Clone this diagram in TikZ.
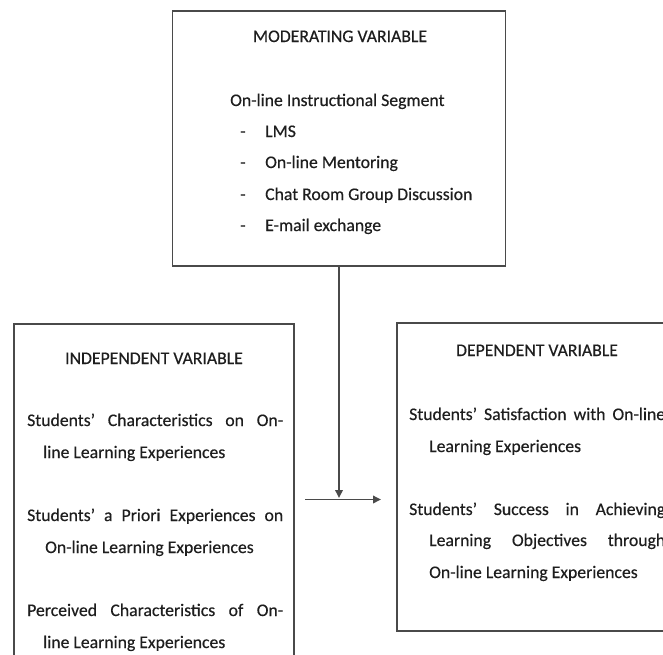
\documentclass[tikz,border=0pt]{standalone}
\usepackage{fontspec}
\setmainfont{Carlito}
\newfontfamily\boxfont{Carlito}[FakeBold=0.4]
\usetikzlibrary{arrows.meta}
\definecolor{boxgray}{HTML}{4A4A4A}
\definecolor{inkgray}{HTML}{1E1E1E}
\newcommand{\bodysize}{\boxfont\fontsize{17.7}{21}\selectfont}

\begin{document}
\begin{tikzpicture}[x=1pt,y=-1pt,
    varbox/.style={draw=boxgray, line width=1.7pt, fill=white, inner sep=0pt},
    vartitle/.style={anchor=base, inner sep=0pt, text=inkgray, font=\bodysize},
    varline/.style={anchor=base west, inner sep=0pt, text=inkgray, font=\bodysize},
    link/.style={draw=boxgray, line width=1.8pt, -{Triangle[length=8pt,width=7.5pt]}}]
    \useasboundingbox (0,0) rectangle (663,654);
    \clip (0,0) rectangle (663,654);

    % Boxes
    \node[varbox, minimum width=333pt, minimum height=255pt] (modbox) at (339,138.5) {};
    \node[varbox, minimum width=280pt, minimum height=376pt] (indbox) at (154,512) {};
    \node[varbox, minimum width=280pt, minimum height=308pt] (depbox) at (537,477) {};

    % Moderating variable
    \node[vartitle] (modtitle) at (340,42) {MODERATING VARIABLE};
    \node[varline] (modhead) at (230,106) {On-line Instructional Segment};
    \node[varline] (moddashA) at (240,137) {-};
    \node[varline] (moditemA) at (265,137) {LMS};
    \node[varline] (moddashB) at (240,168) {-};
    \node[varline] (moditemB) at (265,168) {On-line Mentoring};
    \node[varline] (moddashC) at (240,200) {-};
    \node[varline] (moditemC) at (265,200) {Chat Room Group Discussion};
    \node[varline] (moddashD) at (240,231) {-};
    \node[varline] (moditemD) at (265,231) {E-mail exchange};

    % Independent variable
    \node[vartitle] (indtitle) at (154,364) {INDEPENDENT VARIABLE};
    \node[varline] (indA) at (27,426) {\makebox[256pt][s]{Students’ Characteristics on On-}};
    \node[varline] (indAb) at (43,458) {line Learning Experiences};
    \node[varline] (indB) at (27,521) {\makebox[256pt][s]{Students’ a Priori Experiences on}};
    \node[varline] (indBb) at (45,553) {On-line Learning Experiences};
    \node[varline] (indC) at (27,616) {\makebox[256pt][s]{Perceived Characteristics of On-}};
    \node[varline] (indCb) at (43,648) {line Learning Experiences};

    % Dependent variable
    \node[vartitle] (deptitle) at (537,356) {DEPENDENT VARIABLE};
    \node[varline] (depA) at (409,420) {\makebox[256pt][s]{Students’ Satisfaction with On-line}};
    \node[varline] (depAb) at (429,452) {Learning Experiences};
    \node[varline] (depB) at (409,515) {\makebox[256pt][s]{Students’ Success in Achieving}};
    \node[varline] (depBb) at (429,546) {\makebox[236pt][s]{Learning Objectives through}};
    \node[varline] (depBc) at (429,578) {On-line Learning Experiences};

    % Arrows
    \coordinate (joint) at (339,498);
    \coordinate (flowstart) at (305,499.5);
    \coordinate (flowend) at (381,499.5);
    \draw[link] (modbox.south) -- (joint);
    \draw[link] (flowstart) -- (flowend);
\end{tikzpicture}
\end{document}
